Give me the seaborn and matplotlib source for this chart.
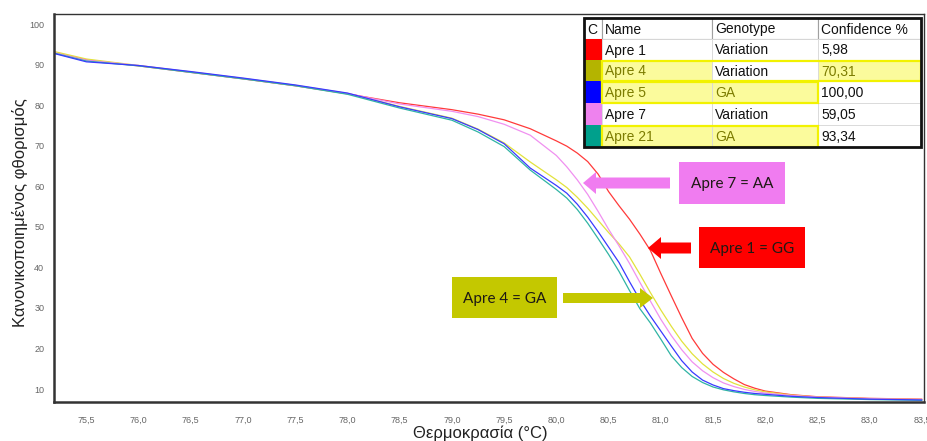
import numpy as np
import pandas as pd
import seaborn as sns
import matplotlib
matplotlib.use("Agg")
import matplotlib.pyplot as plt
from matplotlib.patches import Rectangle, FancyArrow

# ---------------- data ----------------
temps = [75.2, 75.5, 76.0, 76.5, 77.0, 77.5, 78.0, 78.5, 79.0, 79.25, 79.5, 79.75,
         80.0, 80.1, 80.2, 80.3, 80.4, 80.5, 80.6, 80.7, 80.8, 80.9, 81.0, 81.1,
         81.2, 81.3, 81.4, 81.5, 81.6, 81.7, 81.8, 81.9, 82.0, 82.25, 82.5, 83.0, 83.5]

apre1 = [92.9, 91.2, 89.7, 88.1, 86.5, 84.8, 82.8, 80.6, 78.9, 77.8, 76.4, 74.2,
         71.2, 69.9, 68.2, 66.1, 63.0, 58.7, 55.2, 51.9, 48.2, 44.2, 38.5, 33.0,
         27.6, 22.5, 18.8, 16.1, 14.1, 12.5, 11.1, 10.2, 9.5, 8.6, 8.1, 7.7, 7.5]
apre4 = [93.2, 91.4, 89.8, 88.2, 86.6, 84.9, 82.9, 79.7, 76.8, 74.1, 70.7, 66.0,
         61.6, 59.7, 57.3, 54.6, 51.6, 48.6, 45.8, 42.6, 38.3, 33.8, 29.5, 25.5,
         21.8, 18.7, 16.2, 14.2, 12.6, 11.4, 10.5, 9.8, 9.3, 8.5, 8.0, 7.6, 7.4]
apre5 = [92.7, 90.7, 89.8, 88.3, 86.7, 85.0, 83.0, 79.6, 76.7, 74.0, 70.5, 64.5,
         60.2, 58.3, 55.6, 52.4, 48.8, 45.0, 41.2, 36.5, 32.0, 28.0, 24.3, 20.6,
         17.0, 14.2, 12.2, 11.0, 10.1, 9.6, 9.2, 8.9, 8.7, 8.2, 7.9, 7.5, 7.3]
apre7 = [92.9, 91.1, 89.8, 88.2, 86.6, 84.9, 82.9, 80.3, 78.5, 77.2, 75.3, 72.6,
         67.6, 64.8, 61.6, 58.0, 53.8, 49.4, 45.3, 41.0, 36.3, 31.7, 27.2, 23.2,
         19.7, 16.7, 14.5, 12.8, 11.5, 10.6, 9.9, 9.4, 9.0, 8.4, 8.0, 7.6, 7.4]
apre21 = [92.8, 90.9, 89.7, 88.1, 86.5, 84.8, 82.7, 79.3, 76.3, 73.4, 69.8, 64.0,
          59.2, 57.1, 54.3, 50.9, 47.1, 43.2, 39.0, 34.3, 29.8, 26.3, 22.3, 18.2,
          15.3, 13.1, 11.6, 10.5, 9.8, 9.3, 8.9, 8.6, 8.4, 8.0, 7.7, 7.4, 7.2]

samples = ["Apre 1", "Apre 4", "Apre 5", "Apre 7", "Apre 21"]
genotypes = ["Variation", "Variation", "GA", "Variation", "GA"]
confidence = ["5,98", "70,31", "100,00", "59,05", "93,34"]
sample_colors = ["#ff0000", "#b4b400", "#0000ff", "#ee82ee", "#00a08c"]
line_colors = ["#ff3a3a", "#e2e23c", "#3a3aff", "#f090f0", "#30b4a4"]
draw_order = ["Apre 1", "Apre 4", "Apre 7", "Apre 21", "Apre 5"]

x_ticks = [75.5, 76.0, 76.5, 77.0, 77.5, 78.0, 78.5, 79.0, 79.5, 80.0, 80.5,
           81.0, 81.5, 82.0, 82.5, 83.0, 83.5]
x_tick_labels = [f"{v:.1f}".replace(".", ",") for v in x_ticks]
y_ticks = [10, 20, 30, 40, 50, 60, 70, 80, 90, 100]

x_label = "Θερμοκρασία (°C)"
y_label = "Κανονικοποιημένος φθορισμός"

calls = [("Apre 7 = AA", "#f07cf0"), ("Apre 1 = GG", "#ff0000"), ("Apre 4 = GA", "#c4c800")]

series = dict(zip(samples, [apre1, apre4, apre5, apre7, apre21]))
df = pd.concat(
    [pd.DataFrame({"temp": temps, "fluor": series[s], "sample": s}) for s in draw_order],
    ignore_index=True,
)

# ---------------- figure ----------------
sns.set_style("white")
plt.rcParams["font.family"] = ["Liberation Sans", "DejaVu Sans"]

W, H = 928, 441
fig = plt.figure(figsize=(W / 100, H / 100), dpi=100)
ax = fig.add_axes([54 / W, 1 - 402 / H, 870 / W, 388 / H])

sns.lineplot(data=df, x="temp", y="fluor", hue="sample", hue_order=draw_order,
             palette=dict(zip(samples, line_colors)), estimator=None, sort=False,
             linewidth=0.9, legend=False, ax=ax)

ax.set_xlim(75.19, 83.52)
ax.set_ylim(6.8, 102.5)
ax.set_xticks(x_ticks)
ax.set_xticklabels(x_tick_labels)
ax.set_yticks(y_ticks)
ax.set_yticklabels([str(v) for v in y_ticks])
ax.tick_params(axis="both", labelsize=6.5, labelcolor="#666666", color="#999999",
               length=4, width=0.8, direction="out", pad=3)
ax.tick_params(axis="x", pad=6)
ax.set_xlabel(x_label, fontsize=12, color="#222222")
ax.set_ylabel(y_label, fontsize=12, color="#222222")
ax.xaxis.set_label_coords((480 - 54) / 870, (402 - 433) / 388)
ax.yaxis.set_label_coords((20 - 54) / 870, (402 - 213) / 388)
ax.xaxis.label.set_va("center")
ax.yaxis.label.set_va("center")
for side, lw in [("left", 1.8), ("bottom", 1.8), ("top", 1.0), ("right", 1.0)]:
    ax.spines[side].set_visible(True)
    ax.spines[side].set_color("#333333")
    ax.spines[side].set_linewidth(lw)

# ---------------- overlay in pixel units ----------------
ov = fig.add_axes([0, 0, 1, 1], facecolor="none")
ov.set_xlim(0, W)
ov.set_ylim(H, 0)
ov.axis("off")

# results table
col_x = [584, 602, 712, 818, 921]
row_y = [18, 39, 60, 81, 103, 125, 147]
headers = ["C", "Name", "Genotype", "Confidence %"]
hl_fill = "#fbfb9c"
hl_edge = "#f2f200"
text_olive = "#7c7c00"

ov.add_patch(Rectangle((col_x[0], row_y[0]), col_x[-1] - col_x[0], row_y[-1] - row_y[0],
                       facecolor="white", edgecolor="none", zorder=1))
# header
for i, h in enumerate(headers):
    ov.add_patch(Rectangle((col_x[i], row_y[0]), col_x[i + 1] - col_x[i], row_y[1] - row_y[0],
                           facecolor="white", edgecolor="#a0a0a0", lw=0.8, zorder=2))
    ov.text(col_x[i] + 3, (row_y[0] + row_y[1]) / 2 + 1, h, fontsize=10, color="#111111",
            ha="left", va="center", zorder=5)

# highlighted cells per row: (row index, list of column indices)
highlight = {1: [1, 3], 2: [1, 2], 4: [1, 2]}
outline = {1: (1, 4), 2: (1, 3), 4: (1, 3)}

for r, name in enumerate(samples):
    y0, y1 = row_y[r + 1], row_y[r + 2]
    ov.add_patch(Rectangle((col_x[0], y0), col_x[1] - col_x[0], y1 - y0,
                           facecolor=sample_colors[r], edgecolor="none", zorder=2))
    for c in (1, 2, 3):
        fill = hl_fill if c in highlight.get(r, []) else "white"
        ov.add_patch(Rectangle((col_x[c], y0), col_x[c + 1] - col_x[c], y1 - y0,
                               facecolor=fill, edgecolor="#d8d8d8", lw=0.6, zorder=2))
    if r in outline:
        a, b = outline[r]
        ov.add_patch(Rectangle((col_x[a], y0 + 0.5), col_x[b] - col_x[a], y1 - y0 - 1,
                               facecolor="none", edgecolor=hl_edge, lw=1.6, zorder=3))
    for c, txt in zip((1, 2, 3), (name, genotypes[r], confidence[r])):
        tc = text_olive if c in highlight.get(r, []) else "#111111"
        ov.text(col_x[c] + 3, (y0 + y1) / 2 + 1, txt, fontsize=10, color=tc,
                ha="left", va="center", zorder=5)

ov.add_patch(Rectangle((col_x[0], row_y[0]), col_x[-1] - col_x[0], row_y[-1] - row_y[0],
                       facecolor="none", edgecolor="#111111", lw=2.0, zorder=6))

# genotype call labels with arrows
boxes = [(679, 162, 106, 42), (699, 227, 106, 41), (452, 277, 105, 41)]
arrows = [(670, 183, -87, 11, 22, 13), (691, 248, -43, 11, 22, 13), (563, 298, 90, 10, 20, 13)]
for (label, col), (bx, by, bw, bh), (axx, ayy, adx, aw, hw, hl) in zip(calls, boxes, arrows):
    ov.add_patch(Rectangle((bx, by), bw, bh, facecolor=col, edgecolor="none", zorder=4))
    ov.text(bx + bw / 2, by + bh / 2 + 1, label, fontsize=11, family=["Lato", "DejaVu Sans"],
            color="#1e1a14", ha="center", va="center", zorder=5)
    ov.add_patch(FancyArrow(axx, ayy, adx, 0, width=aw, head_width=hw, head_length=hl,
                            length_includes_head=True, facecolor=col, edgecolor="none", zorder=4))

fig.savefig("out.png", dpi=100, facecolor="white")
